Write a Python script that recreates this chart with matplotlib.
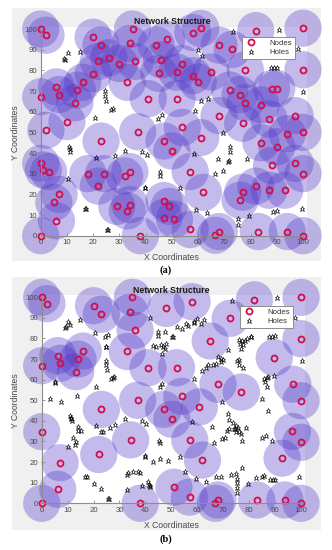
import matplotlib
matplotlib.use("Agg")
import matplotlib.pyplot as plt
from matplotlib.patches import Rectangle
from matplotlib.lines import Line2D

# ---------------- data ----------------
nodes_a_x = [0, 2, 20, 23, 35, 34, 44, 48, 58, 61, 68, 73, 82, 100,
             22, 26, 30, 36, 46, 54,
             20, 45, 52, 58, 65, 78, 100,
             33, 60, 6, 7, 14, 16, 13, 0, 41, 52, 72, 76, 78, 84, 88, 90,
             68, 77, 87, 97, 10, 2, 37, 54, 61, 94, 100,
             23, 47, 50, 84, 90,
             0, 1, 3, 18, 24, 22, 32, 34, 57, 88, 97, 100,
             7, 5, 6, 29, 33, 34, 47, 49, 47, 51, 62, 57, 68, 66.6, 76, 77, 82, 87, 93,
             0, 38, 83, 94, 100]
nodes_a_y = [100, 97, 96, 92.3, 100, 93, 92.3, 95, 98.3, 100.3, 92.2, 90.1, 99.2, 100.4,
             84.3, 86.1, 83.3, 84.3, 85.1, 83.3,
             78.3, 78.5, 79.1, 77.4, 79.2, 80.3, 80.3,
             74.2, 74.3, 72, 68.3, 70.4, 74.2, 64.3, 67.2, 66.3, 66.3, 70.5, 68.3, 64.3, 63.3, 71.2, 71.2,
             58.1, 54.4, 56.5, 58.1, 55.2, 51, 50.3, 52.4, 47.5, 49.3, 50,
             45.8, 45.8, 41, 45, 43,
             35, 31.8, 31, 30, 30, 24, 28.9, 31, 31, 34, 35, 30,
             20, 16.1, 7.2, 14.2, 12, 15, 17, 14.2, 8.8, 8, 21, 3, 2, 0.2, 17.2, 21, 24, 22, 22,
             0, 0, 2, 2, 0]

holes_a_x = [10.5, 14.9, 8.8, 9.1, 24.5, 24.6, 25, 26.7, 27.6, 20.6, 44.7, 46.3,
             73.3, 90.8, 59.8, 61.6, 98, 87.8, 88.9, 90, 100, 63.9, 61.3, 58.9, 69.4,
             10.9, 11, 11, 21.1, 28.3, 32, 38.7, 40.4, 10.3, 39.6, 39.8, 16.9, 17.1, 25.3, 25.5, 45.6, 45.6,
             72.2, 72, 67.6, 71.5, 71.8, 78.8, 69.5, 66.5, 58.3, 53.2, 59.3, 63.3, 75.3, 75.2, 79.5,
             88.7, 90, 99.5]
holes_a_y = [88.6, 89.1, 85.5, 85, 70, 67.4, 65.4, 60.8, 61.3, 56.8, 56.5, 58.3,
             98.5, 99.6, 89.9, 87.1, 90.3, 81, 81, 81, 69.3, 66.2, 65, 60.1, 49.7,
             42.8, 41.8, 40.6, 37.7, 38.6, 41, 40.3, 38.9, 27.6, 22.9, 23.1, 12.9, 13.1, 2.6, 2.8, 30.8, 28.9,
             43.1, 40.3, 37, 35.7, 35.9, 37, 31.1, 29.9, 39.4, 22.9, 12.3, 11.1, 7.9, 5.3, 9.5,
             11.5, 11.9, 13.1]

nodes_b_x = [0, 2, 20, 23, 35, 34, 48, 58, 82, 100, 72.7, 36, 65, 100, 33,
             6.2, 7.2, 14, 16, 13.1, 0, 41, 52, 89.7, 68, 77, 96.8, 37, 54, 60.8, 100,
             23, 47, 50.2, 0, 34.3, 22, 7.1, 6.2, 0, 38, 51, 57, 57.1, 62, 68, 67,
             82.9, 93.8, 100, 92.7, 96.7, 100]
nodes_b_y = [100, 96.9, 95.9, 91.8, 100, 92.7, 94.6, 97.9, 98.8, 100, 89.8, 84, 78.8, 79.9, 73.7,
             71.7, 68, 70, 73.9, 63.9, 66.8, 65.8, 65.8, 70.7, 57.8, 54, 57.8, 50, 51.9, 46.8, 49.8,
             45.6, 45.6, 40.8, 34.8, 30.8, 23.7, 19.7, 6.8, 0, 0, 7.8, 3, 30.8, 21, 1.6, 0,
             1.6, 1.6, 0, 21.9, 34.9, 29.6]

holes_b_x = [10.3, 10.9, 8.9, 9.3, 14.9, 20.4, 24.5, 25.7, 24.7, 24.9, 24.7, 24.8, 25.1, 26.9, 27.6, 28,
             20.8, 5.1, 5, 3.2, 7.6, 13.6,
             41.6, 44.7, 47.7, 45, 50.3, 50.5, 43.1, 43.9, 45.9, 46.6, 47.8, 47.4, 46.3, 45.5, 46.5,
             52.1, 54.1, 55.5, 56.4, 58.7, 58.9, 59.9, 61.6, 62.7,
             73.4, 90.7, 97.8, 87.7, 88.7, 89.9, 80.7, 80.9, 79.3, 78.4, 77.2, 76.2, 76.5, 77.8, 76.7, 71.7,
             68, 69, 69.8, 69.3, 67.4, 66.2, 64.1, 63.5, 61.8, 76, 75.2, 76.2, 77.5, 58.9,
             85.9, 86.8, 87.3, 89.4, 86.3, 86.8, 100.5, 85.1, 69.4,
             11, 11.3, 11.4, 11.7, 14, 13.9, 15.3, 11.9, 13.4, 12.7, 10.3, 20.9, 22.7, 23.6, 26.2, 28.3,
             32, 38.8, 40.4,
             39.7, 39.9, 43.1, 45.6, 48.8, 53.4, 45.4, 45.6,
             32.9, 33.3, 35.3, 37.3, 37.8, 16.8, 17.3, 20.3, 22.9, 25.6, 25.8, 33, 38.8, 41.1, 41.3, 41.9, 41.7,
             87.3, 71.9, 72.2, 73.9, 74.9, 74.3, 74.5, 72.1, 71.3, 75.6, 76.1, 74.9, 77, 78.8, 65.7, 69.7,
             70.8, 77.2, 66.3, 84.8, 86.6, 88.7, 58.1,
             55.4, 59.5, 63.2, 67.1, 69.3, 73, 75, 75.5, 75.3, 75.3, 75.5, 77.4, 79.6, 82.8, 85.1, 85.6,
             88, 89.1, 89.9, 99.4]
holes_b_y = [87.9, 86.4, 85.1, 85.4, 88.8, 82.8, 80.9, 81.7, 75.7, 75.9, 69.2, 67.1, 64.8, 60.5, 60.8, 61.2,
             56.4, 59, 58.2, 50.6, 49, 52.1,
             89.8, 83.3, 83.3, 81, 80.5, 80.7, 76.5, 75.7, 77, 76, 77.3, 74.9, 72.3, 56.6, 58.1,
             85.6, 84.6, 87.1, 86.3, 87.7, 87.9, 89.6, 87.1, 89,
             98.4, 99.5, 89.9, 80.6, 80.8, 81, 80.6, 80.8, 79.8, 78.6, 79, 79.3, 77.3, 76.7, 75.1, 74.6,
             71, 70.2, 69.5, 68.5, 67.6, 67.3, 67, 65.7, 64.4, 69.7, 69.2, 67, 65.7, 60.2,
             60.3, 60.8, 61.4, 61.9, 58.7, 56.6, 69.3, 50.4, 49.3,
             42.5, 41.6, 40.8, 40, 37.2, 35.3, 35.3, 31.5, 29.9, 28.3, 27.3, 37.7, 34.8, 34.4, 36.7, 38,
             40.8, 40, 38.7,
             22.7, 22.9, 20, 21.3, 20.5, 22.6, 30.4, 29.1,
             13.7, 14.7, 15, 15.3, 14.6, 12.7, 12.7, 9.2, 7, 2.1, 2.3, 6.4, 8.4, 10.5, 9.1, 8.1, 8.4,
             44.6, 43.2, 40.4, 38.8, 37.5, 36.1, 36.3, 35.9, 35.1, 36.4, 34.8, 34.4, 33.6, 36.7, 36.9, 31.4,
             31.5, 30.4, 29.4, 31.5, 32.7, 30.3, 39.5,
             15.2, 11.8, 10.5, 12.8, 12.9, 13.7, 14.2, 12, 9.7, 7.2, 5.1, 16.9, 9.2, 12.4, 12.9, 13.2,
             11.5, 11.2, 11.5, 12.8]

x_ticks = [0, 10, 20, 30, 40, 50, 60, 70, 80, 90, 100]
y_ticks = [0, 10, 20, 30, 40, 50, 60, 70, 80, 90, 100]
title_text = "Network Structure"
x_label = "X Coordinates"
y_label = "Y Coordinates"
legend_labels = ["Nodes", "Holes"]
panel_labels = ["(a)", "(b)"]

# ---------------- style ----------------
W, H = 332, 550
DPI = 100
FONT = "Liberation Sans"
GRAY_BG = "#f0f0f0"
CIRCLE_COLOR = (0.30, 0.20, 0.78)
NODE_COLOR = "#d0104c"
AX_COLOR = "#8c8c8c"
TXT_COLOR = "#4a4a4a"
STAR_MS = 3.7
STAR_MEW = 0.45

fig = plt.figure(figsize=(W / DPI, H / DPI), dpi=DPI)
fig.patch.set_facecolor("white")


def frac_rect(l, r, t, b):
    return [l / W, 1 - b / H, (r - l) / W, (b - t) / H]


def panel(bg, x0, x100, y0, y100, nx, ny, hx, hy, title_y, xlabel_y, plabel, plabel_y, leg_px):
    fig.add_artist(Rectangle((bg[0] / W, 1 - bg[3] / H), (bg[1] - bg[0]) / W, (bg[3] - bg[2]) / H,
                             transform=fig.transFigure, facecolor=GRAY_BG, edgecolor="none", zorder=-1))
    xmax, ymax = 101.5, 101
    sx = (x100 - x0) / 100.0
    sy = (y0 - y100) / 100.0
    right = x0 + xmax * sx
    top = y0 - ymax * sy
    ax = fig.add_axes(frac_rect(x0, right, top, y0))
    ax.set_facecolor("white")
    ax.set_xlim(0, xmax)
    ax.set_ylim(0, ymax)
    ax.scatter(nx, ny, s=720, color=CIRCLE_COLOR, alpha=0.33, edgecolors="none",
               clip_on=False, zorder=1)
    ax.plot(hx, hy, linestyle="none", marker="*", markersize=STAR_MS, markerfacecolor="none",
            markeredgecolor="black", markeredgewidth=STAR_MEW, clip_on=False, zorder=3)
    ax.plot(nx, ny, linestyle="none", marker="o", markersize=4.3, markerfacecolor="none",
            markeredgecolor=NODE_COLOR, markeredgewidth=1.3, clip_on=False, zorder=4)
    for side in ["top", "right"]:
        ax.spines[side].set_visible(False)
    for side in ["left", "bottom"]:
        ax.spines[side].set_color(AX_COLOR)
        ax.spines[side].set_linewidth(0.8)
        ax.spines[side].set_zorder(5)
    ax.spines["left"].set_bounds(0, 100)
    ax.spines["bottom"].set_bounds(0, 100)
    ax.set_xticks(x_ticks)
    ax.set_yticks(y_ticks)
    ax.tick_params(direction="in", length=2, width=0.6, color=AX_COLOR, labelcolor=TXT_COLOR,
                   labelsize=5.6, pad=2.5)
    for lab in ax.get_xticklabels() + ax.get_yticklabels():
        lab.set_fontfamily(FONT)
    h_nodes = Line2D([], [], linestyle="none", marker="o", markersize=4.3, markerfacecolor="none",
                     markeredgecolor=NODE_COLOR, markeredgewidth=1.3)
    h_holes = Line2D([], [], linestyle="none", marker="*", markersize=STAR_MS, markerfacecolor="none",
                     markeredgecolor="black", markeredgewidth=STAR_MEW)
    lx = (leg_px[0] - x0) / (right - x0)
    ly = (y0 - leg_px[1]) / (y0 - top)
    leg = ax.legend([h_nodes, h_holes], legend_labels, loc="upper right", bbox_to_anchor=(lx, ly),
                    borderaxespad=0, frameon=True, fancybox=False, framealpha=1,
                    prop={"family": FONT, "size": 5.6}, handlelength=1.6, handletextpad=1.6,
                    borderpad=0.35, labelspacing=0.25)
    leg.get_frame().set_edgecolor("#8c8c8c")
    leg.get_frame().set_linewidth(0.7)
    leg.set_zorder(10)
    for t in leg.get_texts():
        t.set_color("#333333")
    fig.text((x0 + x100) / 2 / W, 1 - title_y / H, title_text, ha="center", va="center",
             fontsize=6.3, fontweight="bold", family=FONT, color="#1a1a1a")
    fig.text((x0 + x100) / 2 / W, 1 - xlabel_y / H, x_label, ha="center", va="center",
             fontsize=6.2, family=FONT, color=TXT_COLOR)
    fig.text(15 / W, 1 - (y0 - 50 * sy) / H, y_label, ha="center", va="center", rotation=90,
             fontsize=6.2, family=FONT, color=TXT_COLOR)
    fig.text(166 / W, 1 - plabel_y / H, plabel, ha="center", va="center",
             fontsize=7.5, fontweight="bold", family="Liberation Serif", color="black")
    return ax


panel((12, 321, 8, 261), 40.7, 303.0, 235.7, 29.0,
      nodes_a_x, nodes_a_y, holes_a_x, holes_a_y,
      22, 257, panel_labels[0], 270, (295, 36.7))
panel((12, 321, 277, 530), 41.7, 301.0, 503.3, 297.3,
      nodes_b_x, nodes_b_y, holes_b_x, holes_b_y,
      290.5, 525.3, panel_labels[1], 539.5, (292.7, 305.7))

fig.savefig("out.png", dpi=DPI)
